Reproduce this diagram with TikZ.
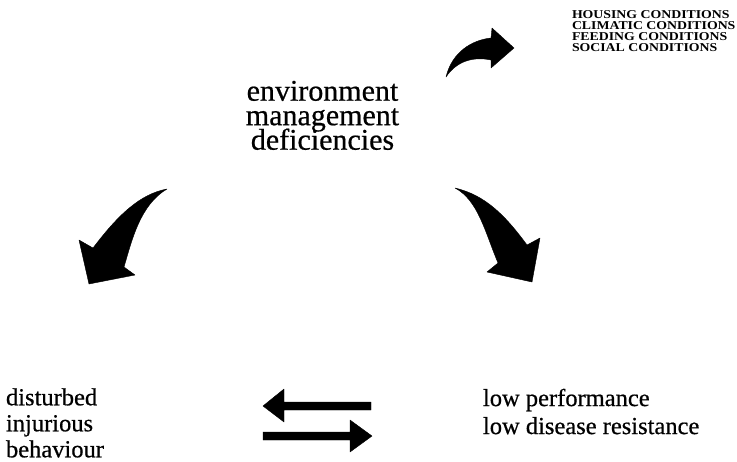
\documentclass[tikz,border=0pt]{standalone}
\usepackage{fontspec}
\setmainfont[FakeBold=0.6]{Liberation Serif}
\newfontfamily\condfont[FakeStretch=1.15]{Liberation Serif Bold}
\newcommand{\tightls}{\lineskiplimit=-50pt\lineskip=0pt\relax}
\begin{document}
\begin{tikzpicture}[x=1pt,y=-1pt,
  lbl/.style={inner sep=0pt, outer sep=0pt, align=left, anchor=north west},
  blob/.style={fill=black, draw=black, line width=0.4pt, line join=round}]
\useasboundingbox (0,0) rectangle (737,461);
% texts
\node[lbl, font={\condfont\fontsize{12}{10.8}\selectfont\tightls}] (cond) at (572,11)
  {HOUSING CONDITIONS\\CLIMATIC CONDITIONS\\FEEDING CONDITIONS\\SOCIAL CONDITIONS};
\node[lbl, anchor=north, align=center, font={\fontsize{30}{24.5}\selectfont\tightls}] (env) at (322.5,80.8)
  {environment\\management\\deficiencies};
\node[lbl, font={\fontsize{24.5}{26}\selectfont\tightls}] (beh) at (6,388.3)
  {disturbed\\injurious\\behaviour};
\node[lbl, font={\fontsize{24.5}{28}\selectfont\tightls}] (perf) at (483,388.8)
  {low performance\\low disease resistance};
% top-right curved arrow
\fill[blob] (446,77) .. controls (452,52) and (472,40) .. (491,38)
  -- (492,28) -- (514,48) -- (491,68) -- (491,60)
  .. controls (472,56) and (456,62) .. cycle;
% left-down arrow
\fill[blob] (167,189) .. controls (140,194) and (118,215) .. (93,248)
  -- (79,240) -- (89,284) -- (135,275) -- (124,267)
  .. controls (132,240) and (140,205) .. (167,189) -- cycle;
% right-down arrow
\fill[blob] (455,188) .. controls (485,195) and (505,215) .. (527,245)
  -- (540,238) -- (532,282) -- (487,272) -- (498,263)
  .. controls (485,232) and (478,200) .. (455,188) -- cycle;
% bottom arrows
\fill[blob] (371,402) -- (284,402) -- (284,389) -- (263,406) -- (284,422) -- (284,410) -- (371,410) -- cycle;
\fill[blob] (263,432) -- (350,432) -- (350,420) -- (372,436) -- (350,452) -- (350,440) -- (263,440) -- cycle;
\end{tikzpicture}
\end{document}
